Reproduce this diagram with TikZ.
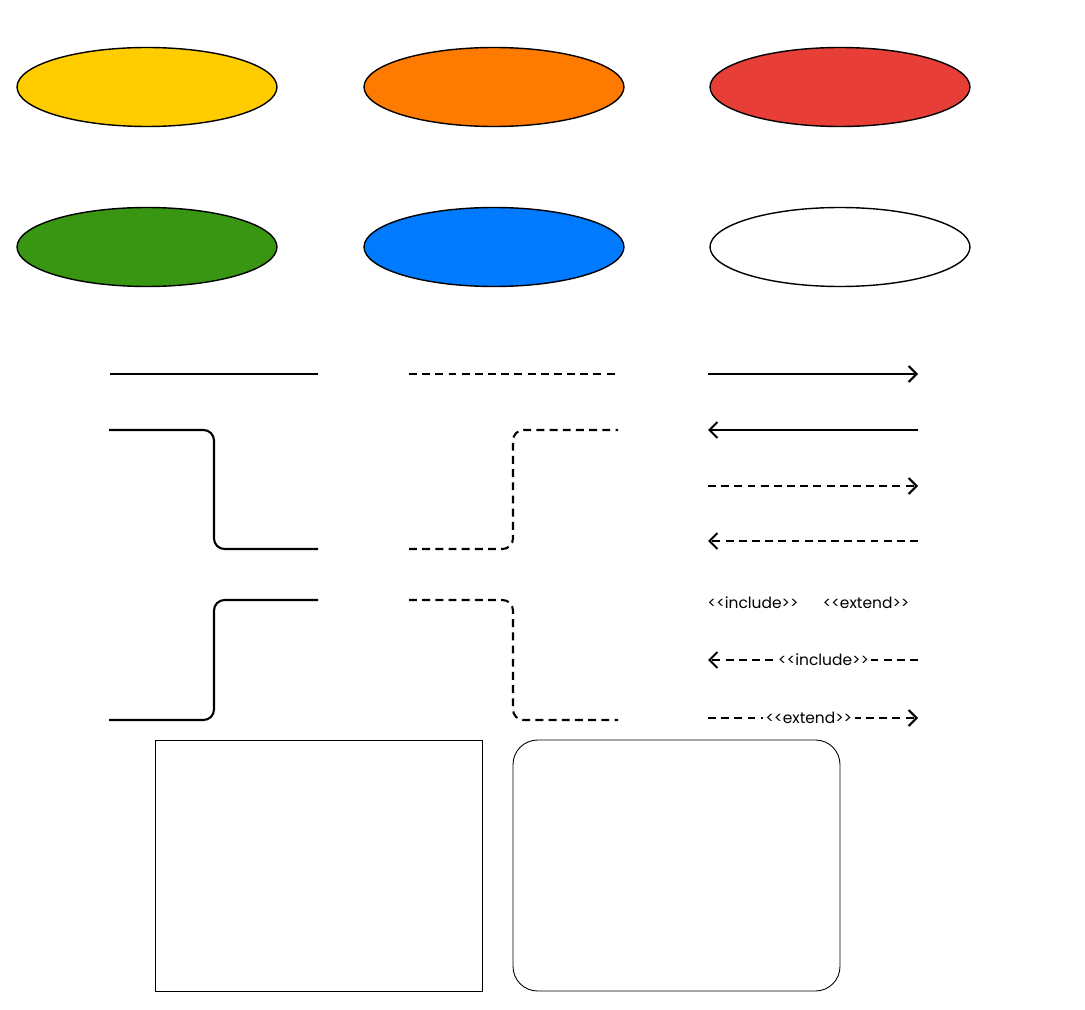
\documentclass[tikz,border=0pt]{standalone}
\usepackage{fontspec}
\setmainfont{Poppins}
\usetikzlibrary{arrows.meta,shapes.geometric}
\definecolor{ucyellow}{HTML}{FFCC00}
\definecolor{ucorange}{HTML}{FF7A00}
\definecolor{ucred}{HTML}{E83E38}
\definecolor{ucgreen}{HTML}{389612}
\definecolor{ucblue}{HTML}{007AFF}
\newcommand{\stereotype}[1]{{<}{<}#1{>}{>}}
\begin{document}
\begin{tikzpicture}[x=0.02cm,y=-0.02cm]
  \tikzset{usecase/.style={draw,ellipse,line width=0.8pt,minimum width=5.2cm,minimum height=1.58cm,inner sep=0pt}}
  \tikzset{link/.style={line width=1.2pt}}
  \tikzset{dep/.style={link,dash pattern=on 4.5pt off 3pt}}
  \tikzset{tip/.style={-{Straight Barb[length=4.5pt,width=9pt,line width=1.2pt]}}}
  \tikzset{stereo/.style={font=\fontsize{8.8}{10}\selectfont,inner sep=1.5pt,fill=white}}
  \useasboundingbox (0,0) rectangle (1085,1010);
  % use cases
  \node[usecase,fill=ucyellow] (yellow) at (147,87) {};
  \node[usecase,fill=ucorange] (orange) at (494,87) {};
  \node[usecase,fill=ucred] (red) at (840,87) {};
  \node[usecase,fill=ucgreen] (green) at (147,247) {};
  \node[usecase,fill=ucblue] (blue) at (494,247) {};
  \node[usecase,fill=white] (plain) at (840,247) {};
  % plain lines
  \draw[link] (110,374) -- (318,374);
  \draw[dep] (409,374) -- (618,374);
  \draw[link,rounded corners=6pt] (109,430) -- (214,430) -- (214,549) -- (318,549);
  \draw[link,rounded corners=6pt] (109,720) -- (214,720) -- (214,600) -- (318,600);
  \draw[dep,rounded corners=6pt] (409,549) -- (513,549) -- (513,430) -- (618,430);
  \draw[dep,rounded corners=6pt] (409,600) -- (513,600) -- (513,720) -- (618,720);
  % arrows
  \draw[link,tip] (708,374) -- (918,374);
  \draw[link,tip] (918,430) -- (708,430);
  \draw[dep,tip] (708,486) -- (918,486);
  \draw[dep,tip] (918,541) -- (708,541);
  % stereotypes
  \node[stereo] (include) at (753,603) {\stereotype{include}};
  \node[stereo] (extend) at (866,603) {\stereotype{extend}};
  \coordinate (inclR) at (918,660);
  \coordinate (inclL) at (708,660);
  \coordinate (extL) at (708,718);
  \coordinate (extR) at (918,718);
  \draw[dep,tip] (inclR) -- node[stereo,pos=0.45] (inclLabel) {\stereotype{include}} (inclL);
  \draw[dep,tip] (extL) -- node[stereo,pos=0.48] (extLabel) {\stereotype{extend}} (extR);
  % boundaries
  \draw[line width=0.5pt] (155,740) rectangle (482,991);
  \draw[line width=0.5pt,rounded corners=14pt] (513,740) rectangle (840,991);
\end{tikzpicture}
\end{document}
